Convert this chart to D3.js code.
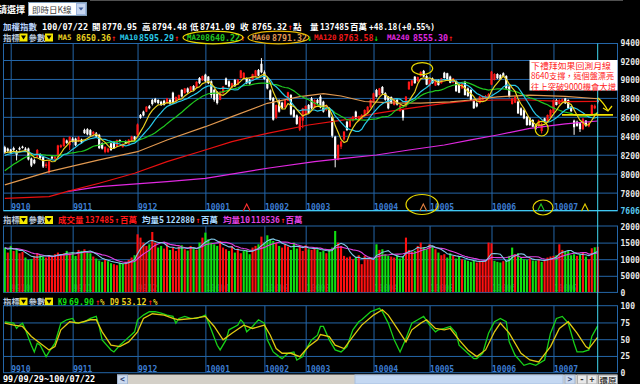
<!DOCTYPE html>
<html><head><meta charset="utf-8">
<script src="https://cdn.jsdelivr.net/npm/d3@7/dist/d3.min.js"></script>
<style>html,body{margin:0;padding:0;background:#000;overflow:hidden}svg{display:block}</style>
</head><body><svg id="chart" width="640" height="384"></svg>
<script>
// ---------------- DATA ----------------
const monthLabels = ["9910","9911","9912","10001","10002","10003","10004","10005","10006","10007"];
const monthStart  = [2,23,45,68,88,102,125,144,165,186];

const opens = [
8280,8265,8255,8270,8235,8270,8285,8265,8265,8160,
8145,8180,8200,8175,8080,8015,8180,8160,8180,8280,
8290,8350,8300,8370,8370,8340,8360,8462,8470,8460,
8415,8425,8410,8320,8230,8230,8320,8338,8290,8355,
8280,8340,8310,8350,8390,8410,8620,8655,8655,8712,
8778,8790,8778,8760,8770,8745,8778,8855,8760,8790,
8885,8850,8900,8870,8925,8912,9010,8985,9045,9025,
8975,8885,8865,8780,8850,9005,8975,8905,8990,8940,
9010,9000,9005,8990,8985,9025,9095,9160,9070,9000,
8880,8800,8590,8775,8750,8700,8770,8830,8670,8615,
8465,8560,8620,8725,8795,8700,8778,8813,8760,8672,
8690,8600,8390,8150,8285,8360,8549,8496,8560,8655,
8560,8580,8610,8640,8700,8750,8883,8830,8915,8850,
8813,8810,8725,8780,8660,8670,8710,8890,8930,9024,
8975,9030,9085,9030,8925,9005,8930,8985,8955,9065,
9060,9025,8960,8975,8940,8900,8970,8900,8885,8778,
8745,8745,8780,8790,8800,8940,8990,9052,9042,9060,
9030,8920,8735,8750,8760,8690,8670,8602,8584,8567,
8510,8500,8450,8584,8549,8600,8640,8778,8735,8755,
8795,8778,8707,8560,8549,8532,8470,8560,8500,8620,
8690,8770.95];
const highs = [
8295,8275,8262,8285,8250,8285,8295,8280,8275,8170,
8160,8260,8215,8185,8120,8135,8190,8185,8305,8310,
8380,8360,8395,8385,8380,8395,8370,8475,8480,8470,
8450,8440,8420,8330,8290,8275,8330,8345,8360,8362,
8320,8350,8365,8400,8398,8530,8630,8665,8712,8725,
8790,8800,8785,8770,8780,8800,8790,8865,8815,8835,
8890,8905,8910,8925,8935,8975,9020,9035,9055,9030,
8985,8895,8870,8870,8925,9015,8985,8960,9000,9000,
9095,9070,9015,9000,9055,9095,9105,9220,9090,9010,
8890,8810,8730,8785,8760,8780,8865,8840,8680,8625,
8605,8695,8720,8735,8810,8785,8790,8830,8770,8730,
8700,8610,8400,8310,8350,8450,8560,8575,8610,8665,
8612,8628,8680,8712,8785,8855,8895,8905,8925,8860,
8820,8815,8800,8790,8725,8680,8820,8975,8990,9030,
9025,9080,9095,9040,8995,9015,8995,8995,9010,9075,
9065,9035,9010,8985,8945,8955,8980,8910,8890,8785,
8755,8820,8825,8830,8850,9085,9060,9060,9050,9070,
9040,8925,8800,8820,8770,8700,8680,8610,8595,8575,
8520,8570,8540,8590,8625,8680,8785,8790,8785,8795,
8800,8785,8715,8570,8560,8540,8590,8565,8545,8730,
8730,8794.48];
const lows = [
8210,8225,8210,8240,8140,8245,8265,8235,8140,8070,
8100,8175,8150,8060,8060,8000,8150,8150,8175,8270,
8285,8315,8250,8330,8290,8335,8320,8420,8405,8400,
8405,8385,8260,8255,8215,8220,8240,8262,8280,8330,
8275,8315,8305,8345,8355,8400,8580,8605,8650,8680,
8720,8745,8735,8715,8720,8740,8730,8740,8750,8785,
8805,8845,8850,8865,8870,8905,8945,8980,8965,8945,
8800,8760,8730,8775,8845,8935,8910,8900,8915,8935,
9005,8995,8945,8940,8980,9020,9030,9060,8990,8890,
8770,8560,8580,8645,8680,8695,8765,8615,8590,8515,
8450,8480,8615,8630,8680,8690,8735,8690,8645,8660,
8590,8380,8067,8140,8260,8350,8450,8490,8550,8575,
8550,8575,8600,8635,8695,8745,8805,8825,8840,8770,
8680,8735,8720,8720,8655,8560,8700,8885,8925,8950,
8970,9025,9020,8935,8920,8950,8925,8930,8950,9005,
8985,8955,8955,8865,8850,8895,8825,8810,8770,8685,
8700,8740,8775,8785,8790,8935,8985,9000,8990,9020,
8895,8805,8730,8745,8630,8610,8575,8505,8505,8490,
8460,8495,8425,8540,8540,8595,8635,8720,8730,8750,
8735,8685,8650,8410,8495,8440,8460,8495,8490,8615,
8680,8741.09];
const closes = [
8225,8240,8220,8250,8200,8255,8272,8245,8150,8085,
8110,8250,8165,8075,8100,8130,8160,8178,8298,8300,
8372,8325,8388,8338,8300,8385,8330,8428,8415,8405,
8442,8395,8270,8265,8282,8265,8250,8268,8355,8338,
8313,8320,8358,8392,8360,8520,8590,8615,8707,8690,
8735,8755,8745,8725,8728,8795,8740,8750,8810,8830,
8815,8900,8860,8920,8880,8970,8955,9030,8975,8955,
8830,8780,8745,8865,8920,8940,8920,8955,8925,8995,
9090,9065,8955,8950,9050,9090,9035,9070,9000,8900,
8780,8570,8725,8655,8690,8775,8860,8625,8600,8525,
8600,8690,8715,8640,8690,8778,8745,8700,8655,8725,
8600,8400,8160,8303,8340,8444,8461,8567,8602,8584,
8605,8620,8672,8707,8778,8848,8813,8900,8850,8780,
8690,8745,8795,8730,8720,8590,8813,8970,8985,8955,
9020,9075,9025,8940,8990,8955,8990,8935,9005,9010,
8990,8960,9005,8870,8855,8950,8830,8820,8778,8690,
8710,8813,8815,8820,8840,9077,9052,9007,8996,9024,
8900,8813,8795,8810,8637,8620,8584,8514,8514,8496,
8475,8560,8520,8549,8620,8672,8778,8725,8778,8785,
8743,8690,8660,8490,8505,8470,8580,8505,8535,8725,
8717,8765.32];
// closes of the 19 sessions before the first visible one (for MA20 start)
const priorCloses = [7760,7790,7810,7840,7860,7880,7900,7930,7960,7980,8110,8150,8170,8200,8180,8210,8220,8200,8250];

const volumes = [
135000,120000,140000,125000,130000,118000,122000,105000,98000,100000,
110000,118000,112000,108000,105000,112000,110000,115000,120000,112000,
118000,125000,118000,122000,110000,128000,125000,130000,122000,118000,
108000,102000,96000,92000,100000,94000,88000,85000,82000,90000,
86000,92000,98000,105000,112000,175000,165000,150000,140000,145000,
182000,150000,135000,140000,132000,145000,128000,135000,125000,138000,
142000,130000,126000,140000,135000,128000,150000,165000,180000,160000,
150000,145000,140000,155000,135000,130000,125000,140000,120000,132000,
118000,125000,128000,115000,135000,140000,145000,168000,150000,172000,
160000,155000,150000,140000,135000,145000,138000,128000,150000,132000,
140000,125000,142000,130000,128000,135000,130000,122000,125000,118000,
130000,135000,185000,150000,140000,110000,105000,108000,100000,105000,
112000,85000,110000,100000,105000,98000,145000,128000,130000,115000,
110000,108000,105000,112000,102000,108000,165000,128000,122000,125000,
140000,150000,135000,130000,145000,140000,130000,120000,112000,115000,
105000,118000,110000,102000,108000,100000,98000,95000,92000,96000,
90000,94000,93000,98000,150000,148000,95000,92000,90000,94000,
96000,110000,135000,115000,118000,105000,100000,98000,102000,96000,
95000,100000,92000,98000,105000,108000,110000,112000,145000,128000,
122000,125000,112000,115000,110000,114000,119960,108000,100000,133000,
135915,137485];
const priorVolumes = [130000,138000,142000,125000,135000,140000,128000,132000,136000];

// long moving averages (session index, value)
const ma60Idx  = [0,15,32,45,55,68,77,89,100,108,114,122,131,141,151,158,167,178,190,201];
const ma60Val  = [7881,8021,8145,8232,8356,8496,8602,8743,8813,8845,8820,8762,8748,8745,8758,8778,8810,8830,8815,8791];
const ma120Idx = [0,15,21,32,44,55,66,77,89,103,115,126,137,149,158,167,178,190,201];
const ma120Val = [7740,7757,7810,7899,8004,8127,8232,8338,8426,8514,8567,8637,8690,8743,8770,8778,8778,8760,8764];
const ma240Idx = [21,32,55,68,89,105,115,126,137,149,158,167,178,190,201];
const ma240Val = [7810,7863,7916,7951,8057,8127,8162,8197,8250,8303,8356,8408,8479,8525,8556];

// KD(9)
const kIdx = [0,3,4,5,6,7,9,10,11,12,14,15,17,19,21,23,24,27,29,31,32,33,36,37,39,41,44,45,47,49,51,53,55,57,58,59,61,63,65,67,68,70,72,73,75,76,79,80,81,82,84,86,88,89,91,93,94,96,98,99,101,102,104,106,107,108,110,112,114,116,118,120,121,124,127,128,130,132,134,136,138,140,142,144,146,147,149,151,153,154,157,159,160,162,164,166,168,170,171,173,176,178,180,183,185,187,189,191,193,194,196,198,199,201];
const kVal = [76,74,66,71,74,64,41,31,44,41,24,31,44,74,79,81,74,76,81,84,69,49,34,31,41,49,61,79,86,91,91,89,86,84,74,81,84,81,81,84,86,64,41,34,49,64,71,79,74,61,69,79,74,49,31,24,21,29,31,19,24,34,49,56,69,69,49,34,31,39,64,76,79,91,96,91,74,49,31,51,74,79,84,71,61,64,66,69,59,41,29,21,21,29,59,76,81,76,46,26,11,14,11,19,59,81,84,74,44,31,31,34,54,69.9];
const dIdx = [0,3,6,9,12,15,17,19,22,25,29,31,33,36,39,42,45,47,50,54,57,59,64,68,71,74,77,81,84,88,90,92,94,97,100,103,106,107,110,112,115,118,121,125,128,130,133,136,138,141,143,146,149,151,154,157,160,163,166,168,171,175,178,181,185,188,191,194,197,198,201];
const dVal = [74,71,69,54,44,34,39,64,76,74,79,79,61,41,39,46,61,81,88,86,81,79,81,84,69,49,59,71,66,71,56,36,29,29,24,39,49,57,54,41,36,54,71,86,94,86,66,46,64,74,79,66,64,66,49,34,24,34,61,74,59,29,19,16,39,66,76,59,39,36,53.12];

const priceGrid = [9200,9000,8800,8600,8400,8200,8000,7800];
const priceLabels = [9400,9200,9000,8800,8600,8400,8200,8000,7800];
const priceMin = 7606;
const volGrid = [150000,100000,50000];
const volLabels = [200000,150000,100000,50000,0];
const kdGrid = [75,50,25];
const kdLabels = [100,75,50,25,0];

const maNames  = ["MA5","MA10","MA20","MA60","MA120","MA240"];
const maValues = ["8650.36","8595.29","8640.22","8791.32","8763.58","8555.30"];
const maArrows = ["↑","↑","↑","↓","↓","↑"];
const maColors = ["#e8d020","#28c8e8","#20c820","#e09850","#f01818","#e028e0"];

// ---------------- DRAW ----------------
const svg = d3.select("#chart");
svg.append("rect").attr("width",640).attr("height",384).attr("fill","#000");
const FONT = "'DejaVu Sans Mono','Noto Sans CJK TC',monospace";
const CJK = "'Noto Sans CJK TC','DejaVu Sans',sans-serif";
const GRID = "#2466a8", RED = "#ff1818", GRN = "#10e010";
const L = 3.5, R = 617.5;
const P = {top:43.5, bottom:210.7}, V = {top:226, bottom:292.4}, KP = {top:305.7, bottom:372.7};
const N = closes.length;
const x  = d3.scaleLinear().domain([0,N-1]).range([4.8,597.7]);
const yP = d3.scaleLinear().domain([priceMin,9200]).range([211,60]);
const yV = d3.scaleLinear().domain([0,200000]).range([V.bottom,V.top]);
const yK = d3.scaleLinear().domain([0,100]).range([KP.bottom,KP.top]);
const defs = svg.append("defs");

function txt(g,xx,yy,s,fill,size=8.5,fam=FONT,weight="bold",len=null){
  const t = g.append("text").attr("x",xx).attr("y",yy).attr("fill",fill).attr("font-size",size)
    .attr("font-family",fam).attr("font-weight",weight).attr("dominant-baseline","central").text(s);
  if(len) t.attr("textLength",len).attr("lengthAdjust","spacingAndGlyphs");
  return t;
}
function panel(p,yScale,gridVals,id){
  defs.append("clipPath").attr("id",id).append("rect").attr("x",L).attr("y",p.top).attr("width",R-L).attr("height",p.bottom-p.top);
  const g = svg.append("g");
  const hx = d3.axisRight(yScale).tickValues(gridVals).tickSize(-(R-L)).tickFormat("");
  const gh = g.append("g").attr("transform",`translate(${R},0)`).call(hx);
  gh.select(".domain").remove(); gh.selectAll("line").attr("stroke",GRID);
  const vx = d3.axisBottom(x).tickValues(monthStart).tickSize(-(p.bottom-p.top)).tickFormat("");
  const gv = g.append("g").attr("transform",`translate(0,${p.bottom})`).call(vx);
  gv.select(".domain").remove(); gv.selectAll("line").attr("stroke",GRID);
  g.append("rect").attr("x",L).attr("y",p.top).attr("width",R-L).attr("height",p.bottom-p.top).attr("fill","none").attr("stroke",GRID);
  return g;
}
function monthText(yy,color){
  const g = svg.append("g");
  monthStart.forEach((m,i)=>txt(g,x(m)+0.5,yy,monthLabels[i],color,8));
}
function axisLabels(vals,yScale,dy,fmt){
  const g = svg.append("g");
  vals.forEach(v=>txt(g,620.5,yScale(v)+dy,fmt(v),"#e8e8e8",8));
  return g;
}
function ma(arr,prior,n){
  const all = prior.concat(arr), off = prior.length;
  return arr.map((_,i)=>[i, d3.mean(all.slice(off+i-n+1, off+i+1))]);
}
const pairs = (ix,vs)=>ix.map((d,i)=>[d,vs[i]]);

// ---- header ----
const hdr = svg.append("g");
txt(hdr,-2,9,"請選擇","#ffffff",9,CJK);
hdr.append("rect").attr("x",28.5).attr("y",2.5).attr("width",58).attr("height",13).attr("fill","#fff").attr("stroke","#7f9db9");
txt(hdr,32,9,"即時日K線","#404040",8.5,CJK,"normal");
hdr.append("rect").attr("x",76.5).attr("y",3.5).attr("width",9).attr("height",11).attr("fill","#c6d6f0").attr("stroke","#9cb4dc");
hdr.append("path").attr("d","M78.5,7.5 L83.5,7.5 L81,10.5 Z").attr("fill","#3a5a9a");
hdr.append("line").attr("x1",90).attr("x2",623).attr("y1",0.5).attr("y2",0.5).attr("stroke","#505050");

const row1 = [[3,"加權指數","#b8d4ff"],[42,"100/07/22","#fff"],[92,"開","#fff"],[102,opens[N-1].toFixed(2),"#fff",35],
  [142,"高","#fff"],[152,highs[N-1].toFixed(2),"#fff",35],[190,"低","#fff"],[200,lows[N-1].toFixed(2),"#fff",35],
  [240,"收","#fff"],[252,closes[N-1].toFixed(2),"#fff",35],[287.5,"↑",RED],[293,"點","#fff"],[310,"量","#fff"],
  [320,String(volumes[N-1]),"#fff",29],[350,"百萬","#fff"],[369,"+48.18(+0.55%)","#fff",66]];
row1.forEach(t=>txt(hdr,t[0],26.5,t[1],t[2],8.5,FONT,"bold",t[3]||null));

function selector(g,yy){
  txt(g,3,yy,"指標","#b8c8dc");
  [19.5,45].forEach(bx=>{
    g.append("rect").attr("x",bx).attr("y",yy-4).attr("width",8).attr("height",8).attr("fill","#f4e800");
    g.append("path").attr("d",`M${bx+1.5},${yy-2} L${bx+6.5},${yy-2} L${bx+4},${yy+2} Z`).attr("fill","#000");
  });
  txt(g,28.5,yy,"參數","#b8c8dc");
}
selector(hdr,37.5);
const maLblX = [58,120,187,252,314,387];
const maValX = [76,139,205,272,338.5,413];
maNames.forEach((nm,i)=>{
  txt(hdr,maLblX[i],37.5,nm,maColors[i],7.5,FONT,"bold");
  txt(hdr,maValX[i],37.5,maValues[i],maColors[i],8.5,FONT,"bold",35);
  txt(hdr,maValX[i]+35.5,37.5,maArrows[i],maArrows[i]==="↑"?RED:GRN,8.5,FONT,"bold",4.5);
});

// ---- price panel ----
panel(P,yP,priceGrid,"clipP");
monthText(207.8,"#3c7cd0");
axisLabels(priceLabels,yP,2,d=>d);
txt(svg,620.5,yP(priceMin)+0.3,String(priceMin),"#58c8f0",8);
const cp = svg.append("g").attr("clip-path","url(#clipP)");
const lineP = d3.line().x(d=>x(d[0])).y(d=>yP(d[1]));
const idx = d3.range(N);
const up = i=>closes[i]>=opens[i];
cp.selectAll("line.w").data(idx).join("line").attr("class","w")
  .attr("x1",i=>x(i)).attr("x2",i=>x(i)).attr("y1",i=>yP(highs[i])).attr("y2",i=>yP(lows[i]))
  .attr("stroke",i=>up(i)?RED:"#fff").attr("stroke-width",1);
cp.selectAll("rect.b").data(idx).join("rect").attr("class","b")
  .attr("x",i=>x(i)-1.1).attr("width",2.2)
  .attr("y",i=>yP(Math.max(opens[i],closes[i])))
  .attr("height",i=>Math.max(1,Math.abs(yP(opens[i])-yP(closes[i]))))
  .attr("fill",i=>up(i)?RED:"#fff");
const maSeries = [
  [pairs(ma240Idx,ma240Val),maColors[5]],
  [pairs(ma120Idx,ma120Val),"#e81010"],
  [pairs(ma60Idx,ma60Val),maColors[3]],
  [ma(closes,priorCloses,20),maColors[2]],
  [ma(closes,priorCloses,10),maColors[1]],
  [ma(closes,priorCloses,5),maColors[0]]];
maSeries.forEach(s=>cp.append("path").attr("d",lineP(s[0])).attr("fill","none").attr("stroke",s[1]).attr("stroke-width",1.2));
svg.append("line").attr("x1",L).attr("x2",R).attr("y1",P.bottom).attr("y2",P.bottom).attr("stroke","#40c8f0").attr("stroke-width",1.3);

// ---- volume panel ----
const vrow = svg.append("g");
selector(vrow,220);
[[58,"成交量",RED,8.5],[85,"137485",RED,8],[114.5,"↑",RED,8],[120,"百萬",RED,8.5],
 [142,"均量5","#a8d8ff",8.5],[166,"122880","#a8d8ff",8],[195.5,"↑",RED,8],[201,"百萬","#a8d8ff",8.5],
 [223,"均量10","#e040e0",8.5],[251,"118536","#e040e0",8],[280.5,"↑",RED,8],[285.5,"百萬","#e040e0",8.5]]
 .forEach(t=>txt(vrow,t[0],220,t[1],t[2],t[3],FONT,"bold"));
panel(V,yV,volGrid,"clipV");
monthText(288.5,"#1c3f70");
axisLabels(volLabels,yV,1,d=>d);
const cv = svg.append("g").attr("clip-path","url(#clipV)");
const volUp = i=> i===0 ? closes[0]>=opens[0] : closes[i]>=closes[i-1];
cv.selectAll("rect").data(idx).join("rect")
  .attr("x",i=>x(i)-1.05).attr("width",2.1)
  .attr("y",i=>yV(volumes[i])).attr("height",i=>V.bottom-yV(volumes[i]))
  .attr("fill",i=>volUp(i)?"#ff1010":"#10e010");
const lineV = d3.line().x(d=>x(d[0])).y(d=>yV(d[1]));
cv.append("path").attr("d",lineV(ma(volumes,priorVolumes,10))).attr("fill","none").attr("stroke","#e040e0").attr("stroke-width",1.1);
cv.append("path").attr("d",lineV(ma(volumes,priorVolumes,5))).attr("fill","none").attr("stroke","#80c8e8").attr("stroke-width",1.1);

// ---- KD panel ----
const krow = svg.append("g");
selector(krow,301.7);
[[58,"K9",GRN,9],[69,"69.90",GRN,25],[95.5,"↑",RED,4.5],[100,"%","#e0d020",4.5],
 [110,"D9","#e8d020",9],[121.5,"53.12","#e8d020",25],[148,"↑",RED,4.5],[153,"%","#e0d020",4.5]]
 .forEach(t=>txt(krow,t[0],301.7,t[1],t[2],8.5,FONT,"bold",t[3]));
panel(KP,yK,kdGrid,"clipK");
monthText(369.8,"#3c7cd0");
axisLabels(kdLabels,yK,1,d=>d);
const ck = svg.append("g").attr("clip-path","url(#clipK)");
const lineK = d3.line().x(d=>x(d[0])).y(d=>yK(d[1]));
ck.append("path").attr("d",lineK(pairs(kIdx,kVal))).attr("fill","none").attr("stroke","#18d018").attr("stroke-width",1.3);
ck.append("path").attr("d",lineK(pairs(dIdx,dVal))).attr("fill","none").attr("stroke","#e0c810").attr("stroke-width",1.3);

// cursor line
svg.append("line").attr("x1",x(N-1)).attr("x2",x(N-1)).attr("y1",P.top).attr("y2",KP.bottom).attr("stroke","#40d8f0").attr("stroke-width",1);

// ---- annotations ----
const an = svg.append("g");
const YEL = "#e8d800";
an.append("ellipse").attr("cx",213).attr("cy",37.5).attr("rx",30).attr("ry",6.3).attr("fill","none").attr("stroke",YEL).attr("stroke-width",1.2);
an.append("ellipse").attr("cx",278.5).attr("cy",37.5).attr("rx",30.5).attr("ry",6.3).attr("fill","none").attr("stroke","#e8b800").attr("stroke-width",1.2);
an.append("ellipse").attr("cx",x(141.5)).attr("cy",yP(9110)).attr("rx",10.5).attr("ry",6).attr("fill","none").attr("stroke",YEL).attr("stroke-width",1.2);
an.append("ellipse").attr("cx",x(182)).attr("cy",yP(8475)).attr("rx",6.5).attr("ry",7.3).attr("fill","none").attr("stroke",YEL).attr("stroke-width",1.2);
an.append("ellipse").attr("cx",422).attr("cy",204.5).attr("rx",16).attr("ry",10).attr("fill","none").attr("stroke",YEL).attr("stroke-width",1.2);
an.append("ellipse").attr("cx",543).attr("cy",207.5).attr("rx",10).attr("ry",7.5).attr("fill","none").attr("stroke",YEL).attr("stroke-width",1.2);
[[246.7,"#ff3030"],[423.3,"#e08040"],[541,"#20c820"],[585,"#e8d000"]].forEach(t=>{
  an.append("path").attr("d",`M${t[0]-3.5},211 L${t[0]},204 L${t[0]+3.5},211`).attr("fill","none").attr("stroke",t[1]).attr("stroke-width",1.1);
});
an.append("line").attr("x1",562).attr("x2",613).attr("y1",yP(8620)).attr("y2",yP(8620)).attr("stroke","#f0e000").attr("stroke-width",1.8);
an.append("path").attr("d","M598,98 Q604,103 608,111").attr("fill","none").attr("stroke","#f0e000").attr("stroke-width",1.3);
an.append("path").attr("d","M603,108 L608,111 L612,106").attr("fill","none").attr("stroke","#f0e000").attr("stroke-width",1.3);
an.append("rect").attr("x",529.5).attr("y",60).attr("width",88).attr("height",30.5).attr("fill","#fff");
const notes = ["下禮拜如果回測月線","8640支撐，這個盤漂亮","往上突破9000機會大增"];
const noteY = [64.5,74.8,85.5], noteW = [80,83,85];
notes.forEach((s,i)=>txt(an,531,noteY[i],s,"#ff2020",8.5,CJK,"normal",noteW[i]));

// ---- bottom bar ----
const bb = svg.append("g");
txt(bb,3,378.5,"99/09/29~100/07/22","#fff",8.5);
bb.append("rect").attr("x",117).attr("y",374.5).attr("width",500).attr("height",9.5).attr("fill","#d4d0c8");
bb.append("rect").attr("x",117.5).attr("y",375).attr("width",10).attr("height",9).attr("fill","#c8d8ee").attr("stroke","#a0b4d0");
txt(bb,120,379.5,"<","#304070",8);
bb.append("rect").attr("x",355).attr("y",375).attr("width",208).attr("height",9).attr("fill","#c4d8f2").attr("stroke","#a8c0e0");
bb.append("rect").attr("x",565).attr("y",375).attr("width",10).attr("height",9).attr("fill","#c8d8ee").attr("stroke","#a0b4d0");
txt(bb,567.5,379.5,">","#304070",8);
bb.append("rect").attr("x",577.5).attr("y",375).attr("width",9).attr("height",9).attr("fill","#e8e8e8").attr("stroke","#b0b0b0");
txt(bb,579.5,379.5,"-","#303030",8);
bb.append("rect").attr("x",587.5).attr("y",375).attr("width",9.5).attr("height",9).attr("fill","#e8e8e8").attr("stroke","#b0b0b0");
txt(bb,589.5,379.5,"+","#303030",8);
bb.append("rect").attr("x",598.5).attr("y",375).attr("width",19).attr("height",9).attr("fill","#e8e8e8").attr("stroke","#909090");
txt(bb,599.5,379.5,"還原","#000",8.5,CJK,"normal");
</script></body></html>
